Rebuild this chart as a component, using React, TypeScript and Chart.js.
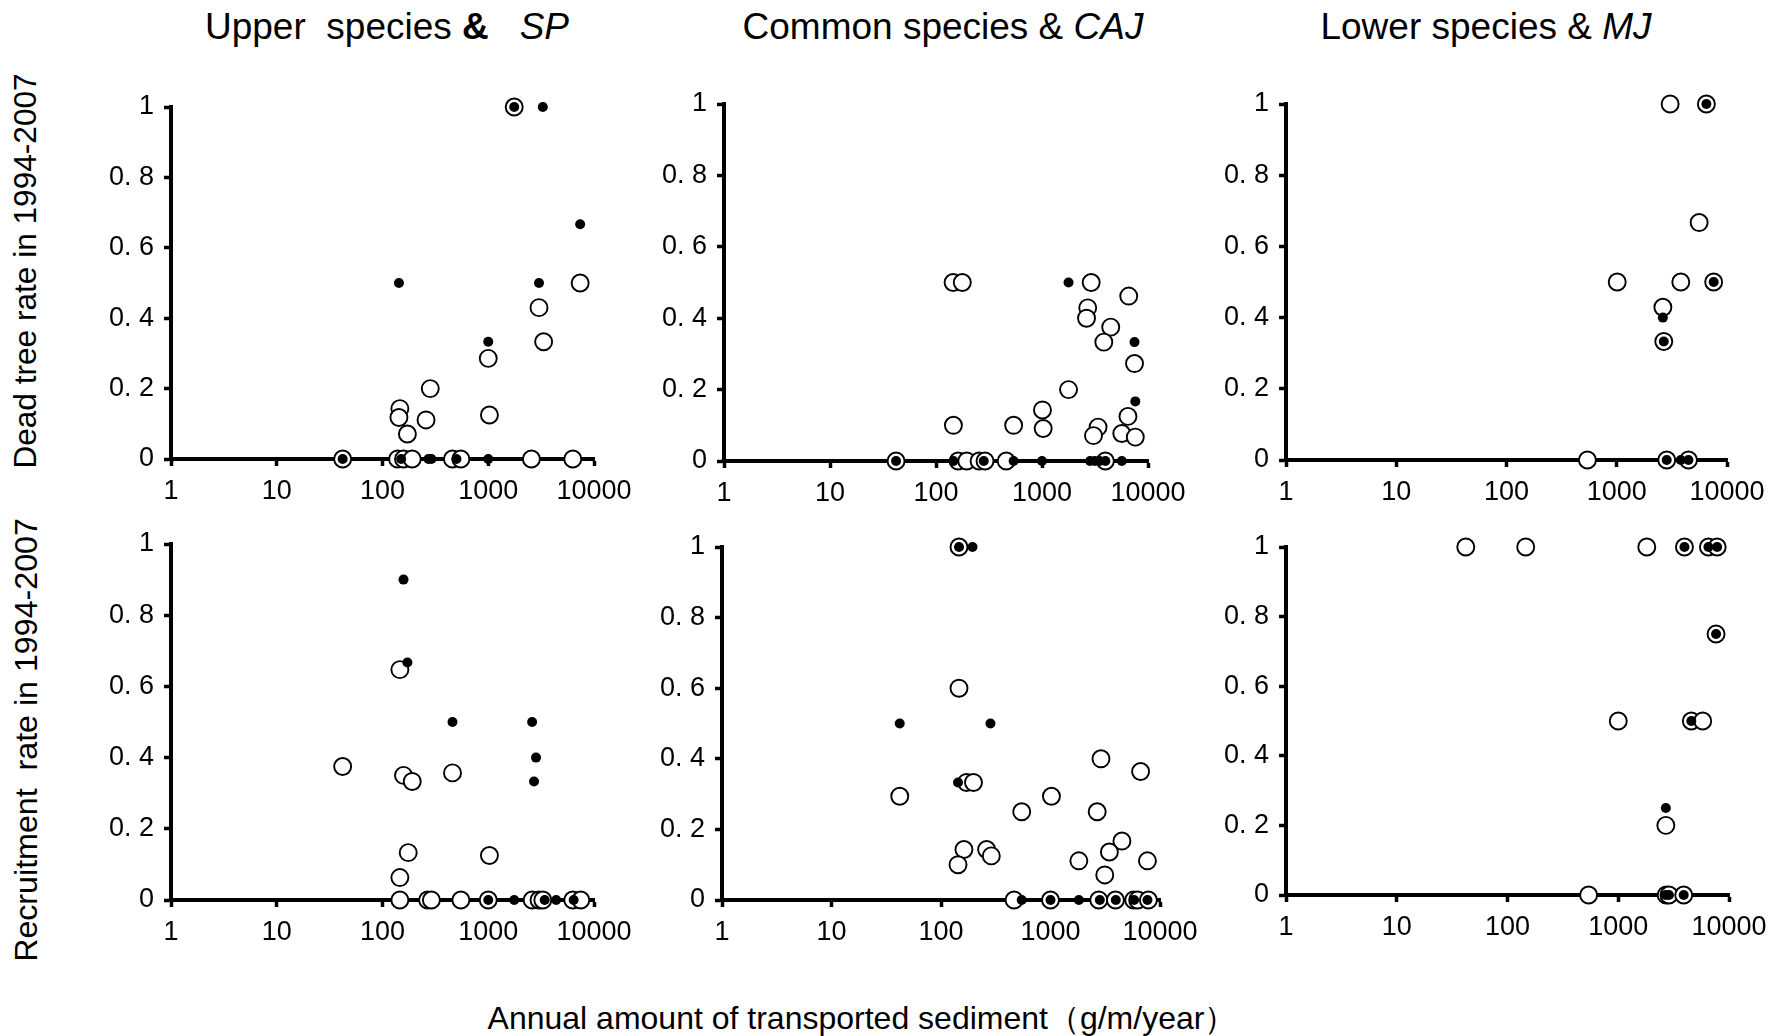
import React, { useEffect, useRef } from "react";
import { Chart, registerables } from "chart.js";
Chart.register(...registerables);

type Pt = [number, number];

const xTickValues = [1, 10, 100, 1000, 10000];
const xTickLabels = ["1", "10", "100", "1000", "10000"];
const yTickValues = [0, 0.2, 0.4, 0.6, 0.8, 1];
const yTickLabels = ["0", "0. 2", "0. 4", "0. 6", "0. 8", "1"];

// Upper species & SP — dead tree rate
const upperDeadOpen: Pt[] = [
  [42, 0], [139, 0], [158, 0], [191, 0], [459, 0], [551, 0], [2560, 0], [6300, 0],
  [1760, 1], [7400, 0.5], [3020, 0.43], [3340, 0.333], [1000, 0.286], [1026, 0.125],
  [283, 0.2], [258, 0.111], [146, 0.143], [143, 0.118], [172, 0.071],
];
const upperDeadFilled: Pt[] = [
  [1760, 1], [3280, 1], [7400, 0.667], [143, 0.5], [3020, 0.5], [1000, 0.333],
  [42, 0], [150, 0], [272, 0], [290, 0], [500, 0], [1000, 0],
];

// Common species & CAJ — dead tree rate
const commonDeadOpen: Pt[] = [
  [145, 0.5], [177, 0.5], [2910, 0.5], [6580, 0.462], [2700, 0.429], [2630, 0.4],
  [4450, 0.375], [3830, 0.333], [7460, 0.273], [1780, 0.2], [1010, 0.143], [1026, 0.091],
  [146, 0.1], [540, 0.1], [6470, 0.125], [3380, 0.095], [3060, 0.071], [5660, 0.077],
  [7590, 0.067], [42, 0], [162, 0], [195, 0], [255, 0], [290, 0], [460, 0], [3960, 0],
];
const commonDeadFilled: Pt[] = [
  [1780, 0.5], [7460, 0.333], [7590, 0.167], [42, 0], [146, 0], [282, 0], [540, 0],
  [1000, 0], [2840, 0], [3150, 0], [3500, 0], [3960, 0], [5660, 0],
];

// Lower species & MJ — dead tree rate
const lowerDeadOpen: Pt[] = [
  [3050, 1], [6500, 1], [5590, 0.667], [1010, 0.5], [3810, 0.5], [7570, 0.5],
  [2620, 0.429], [2670, 0.333], [542, 0], [2840, 0], [4470, 0],
];
const lowerDeadFilled: Pt[] = [
  [6500, 1], [7570, 0.5], [2620, 0.4], [2670, 0.333], [2840, 0], [3810, 0], [4470, 0],
];

// Upper species & SP — recruitment rate
const upperRecOpen: Pt[] = [
  [146, 0.647], [42, 0.375], [158, 0.35], [191, 0.333], [459, 0.357], [175, 0.133],
  [1026, 0.125], [146, 0.063], [146, 0], [267, 0], [290, 0], [551, 0], [1000, 0],
  [2600, 0], [3020, 0], [3280, 0], [6300, 0], [7500, 0],
];
const upperRecFilled: Pt[] = [
  [158, 0.9], [172, 0.667], [459, 0.5], [2600, 0.5], [2830, 0.4], [2710, 0.333],
  [1000, 0], [1760, 0], [3420, 0], [4390, 0], [6420, 0],
];

// Common species & CAJ — recruitment rate
const commonRecOpen: Pt[] = [
  [146, 1], [146, 0.6], [42, 0.294], [171, 0.333], [198, 0.333], [1020, 0.294],
  [546, 0.25], [2670, 0.25], [2890, 0.4], [6650, 0.364], [4490, 0.167], [3450, 0.136],
  [162, 0.143], [261, 0.143], [288, 0.125], [143, 0.1], [1815, 0.111], [3130, 0.071],
  [7680, 0.111], [465, 0], [1000, 0], [2760, 0], [3920, 0], [5750, 0], [6250, 0], [7830, 0],
];
const commonRecFilled: Pt[] = [
  [146, 1], [194, 1], [42, 0.5], [283, 0.5], [143, 0.333], [546, 0], [1000, 0],
  [1815, 0], [2820, 0], [3950, 0], [5800, 0], [7680, 0],
];

// Lower species & MJ — recruitment rate
const lowerRecOpen: Pt[] = [
  [42, 1], [146, 1], [1810, 1], [3960, 1], [6520, 1], [7820, 1], [7640, 0.75],
  [1000, 0.5], [4570, 0.5], [5790, 0.5], [2690, 0.2], [540, 0], [2710, 0], [2870, 0], [3900, 0],
];
const lowerRecFilled: Pt[] = [
  [3960, 1], [6520, 1], [7820, 1], [7640, 0.75], [4570, 0.5], [2690, 0.25],
  [2690, 0], [2870, 0], [3900, 0],
];

const FONT = "'Liberation Sans', Arial, sans-serif";
const TICK_FONT = "'Liberation Sans', Arial, sans-serif";

type PanelProps = {
  open: Pt[];
  filled: Pt[];
  left: number;
  top: number;
  right: number;
  bottom: number;
};

const PL = 80, PT = 36, PR = 60, PB = 60;

function Panel({ open, filled, left, top, right, bottom }: PanelProps) {
  const ref = useRef<HTMLCanvasElement>(null);
  const w = right - left + PL + PR;
  const h = bottom - top + PT + PB;
  useEffect(() => {
    const chart = new Chart(ref.current as HTMLCanvasElement, {
      type: "scatter",
      data: {
        datasets: [
          {
            data: filled.map(([x, y]) => ({ x, y })),
            pointRadius: 5,
            pointBackgroundColor: "#000",
            pointBorderColor: "#000",
            pointBorderWidth: 0,
            clip: false,
          } as any,
          {
            data: open.map(([x, y]) => ({ x, y })),
            pointRadius: 8.5,
            pointBackgroundColor: "#fff",
            pointBorderColor: "#000",
            pointBorderWidth: 1.9,
            clip: false,
          } as any,
        ],
      },
      options: {
        animation: false,
        responsive: false,
        maintainAspectRatio: false,
        events: [],
        layout: { padding: { left: 0, top: PT, right: PR, bottom: 0 } },
        plugins: { legend: { display: false }, tooltip: { enabled: false } },
        scales: {
          x: {
            type: "logarithmic",
            min: 1,
            max: 10000,
            afterBuildTicks: (s: any) => {
              s.ticks = xTickValues.map((v) => ({ value: v, major: true }));
            },
            afterFit: (s: any) => {
              s.height = PB;
            },
            ticks: {
              autoSkip: false,
              maxRotation: 0,
              minRotation: 0,
              padding: 9,
              color: "#000",
              font: { family: TICK_FONT, size: 27 },
              callback: (_v: any, i: number) => xTickLabels[i],
            },
            grid: {
              drawOnChartArea: false,
              drawTicks: true,
              tickLength: 7,
              tickWidth: 3.5,
              tickColor: "#000",
            },
            border: { display: true, color: "#000", width: 4 },
          } as any,
          y: {
            type: "linear",
            min: 0,
            max: 1,
            afterBuildTicks: (s: any) => {
              s.ticks = yTickValues.map((v) => ({ value: v }));
            },
            afterFit: (s: any) => {
              s.width = PL;
            },
            ticks: {
              autoSkip: false,
              padding: 10,
              color: "#000",
              font: { family: TICK_FONT, size: 27 },
              callback: (_v: any, i: number) => yTickLabels[i],
            },
            grid: {
              drawOnChartArea: false,
              drawTicks: true,
              tickLength: 7,
              tickWidth: 3.5,
              tickColor: "#000",
            },
            border: { display: true, color: "#000", width: 4 },
          } as any,
        },
      },
    });
    return () => chart.destroy();
  }, []);
  return (
    <canvas
      ref={ref}
      width={w}
      height={h}
      style={{ position: "absolute", left: left - PL, top: top - PT, width: w, height: h }}
    />
  );
}

const textBase: React.CSSProperties = {
  position: "absolute",
  fontFamily: FONT,
  color: "#000",
  whiteSpace: "pre",
  lineHeight: 1,
};

export default function App() {
  return (
    <div
      style={{
        position: "fixed",
        left: 0,
        top: 0,
        width: 1785,
        height: 1036,
        background: "#fff",
        overflow: "hidden",
      }}
    >
      <div style={{ ...textBase, fontSize: 37, left: 387, top: 8, transform: "translateX(-50%)" }}>
        Upper  species <b>&amp;</b>   <i>SP</i>
      </div>
      <div style={{ ...textBase, fontSize: 37, left: 943, top: 8, transform: "translateX(-50%)" }}>
        Common species &amp; <i>CAJ</i>
      </div>
      <div style={{ ...textBase, fontSize: 37, left: 1486, top: 8, transform: "translateX(-50%)" }}>
        Lower species &amp; <i>MJ</i>
      </div>
      <div
        style={{
          ...textBase,
          fontSize: 31.6,
          left: 26,
          top: 271,
          transform: "translate(-50%, -50%) rotate(-90deg)",
        }}
      >
        Dead tree rate in 1994-2007
      </div>
      <div
        style={{
          ...textBase,
          fontSize: 32.2,
          left: 26,
          top: 740,
          transform: "translate(-50%, -50%) rotate(-90deg)",
        }}
      >
        Recruitment  rate in 1994-2007
      </div>
      <div style={{ ...textBase, fontSize: 32, left: 862, top: 1002, transform: "translateX(-50%)" }}>
        Annual amount of transported sediment（g/m/year）
      </div>

      <Panel open={upperDeadOpen} filled={upperDeadFilled} left={171} right={594} top={107} bottom={459} />
      <Panel open={commonDeadOpen} filled={commonDeadFilled} left={724} right={1148} top={104} bottom={461} />
      <Panel open={lowerDeadOpen} filled={lowerDeadFilled} left={1286} right={1727} top={104} bottom={460} />
      <Panel open={upperRecOpen} filled={upperRecFilled} left={171} right={594} top={544} bottom={900} />
      <Panel open={commonRecOpen} filled={commonRecFilled} left={722} right={1160} top={547} bottom={900} />
      <Panel open={lowerRecOpen} filled={lowerRecFilled} left={1286} right={1729} top={547} bottom={895} />
    </div>
  );
}
